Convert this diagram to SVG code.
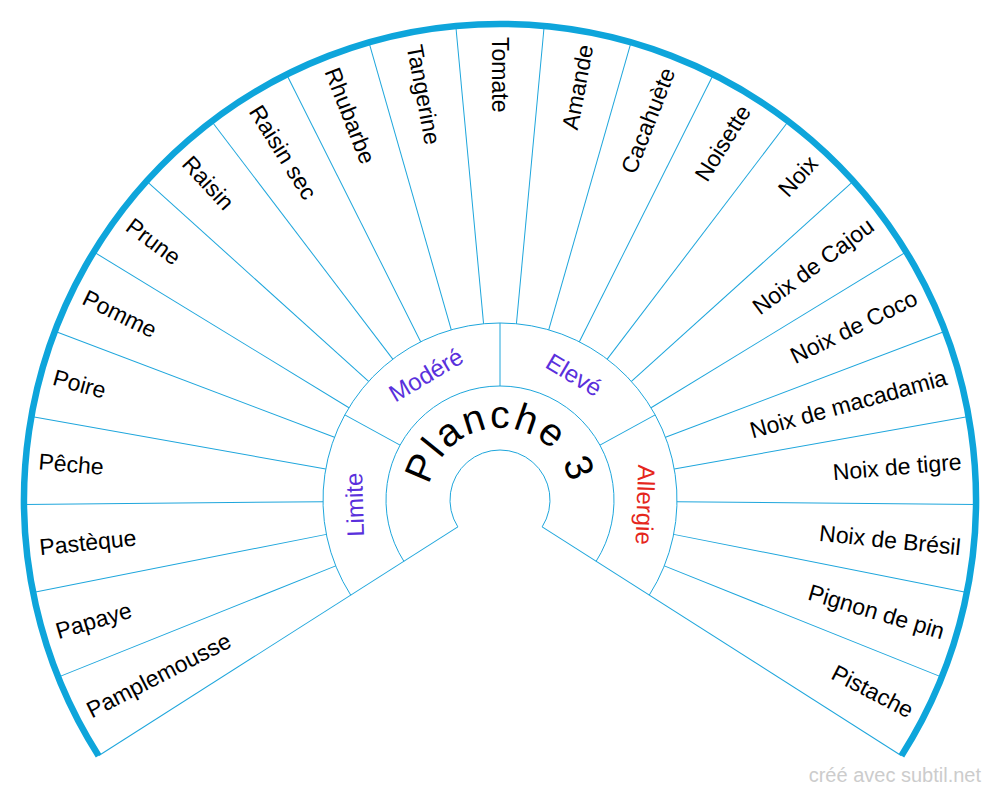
<svg xmlns="http://www.w3.org/2000/svg" xmlns:xlink="http://www.w3.org/1999/xlink" width="1000" height="796" viewBox="0 0 1000 796">
<style>
.bg{fill:#ffffff}
.thin{stroke:#1ea6dc;stroke-width:1;fill:none}
.thick{stroke:#0ea5db;stroke-width:6.5;fill:none}
.it{font-family:"Liberation Sans",Arial,sans-serif;font-size:23px;fill:#000;dominant-baseline:central}
.l{text-anchor:start}
.r{text-anchor:end}
.cat{font-family:"Liberation Sans",Arial,sans-serif;font-size:24px;fill:#5a30dc;text-anchor:middle;dominant-baseline:central}
.red{fill:#e5261c}
.title{font-family:"Liberation Sans",Arial,sans-serif;font-size:39px;fill:#000;letter-spacing:2.5px}
.foot{font-family:"Liberation Sans",Arial,sans-serif;font-size:20px;fill:#cccccc;text-anchor:end}
</style>
<defs>
<path id="titlePath" d="M 428 500 A 72 72 0 0 1 572 500"/>
</defs>
<rect class="bg" x="0" y="0" width="1000" height="796"/>
<g id="connectors">
<path class="thin" d="M 457.830 526.865 A 50 50 0 1 1 542.170 526.865"/>
<path class="thin" d="M 403.853 561.252 A 114 114 0 1 1 596.147 561.252"/>
<path class="thin" d="M 350.720 595.102 A 177 177 0 1 1 649.280 595.102"/>
<line class="thin" x1="500" y1="450" x2="500" y2="24" transform="rotate(-122.5 500 500)"/>
<line class="thin" x1="500" y1="450" x2="500" y2="24" transform="rotate(122.5 500 500)"/>
<line class="thin" x1="500" y1="386" x2="500" y2="323" transform="rotate(-61.25 500 500)"/>
<line class="thin" x1="500" y1="386" x2="500" y2="323"/>
<line class="thin" x1="500" y1="386" x2="500" y2="323" transform="rotate(61.25 500 500)"/>
<line class="thin" x1="500" y1="323" x2="500" y2="24" transform="rotate(-111.848 500 500)"/>
<line class="thin" x1="500" y1="323" x2="500" y2="24" transform="rotate(-101.196 500 500)"/>
<line class="thin" x1="500" y1="323" x2="500" y2="24" transform="rotate(-90.543 500 500)"/>
<line class="thin" x1="500" y1="323" x2="500" y2="24" transform="rotate(-79.891 500 500)"/>
<line class="thin" x1="500" y1="323" x2="500" y2="24" transform="rotate(-69.239 500 500)"/>
<line class="thin" x1="500" y1="323" x2="500" y2="24" transform="rotate(-58.587 500 500)"/>
<line class="thin" x1="500" y1="323" x2="500" y2="24" transform="rotate(-47.935 500 500)"/>
<line class="thin" x1="500" y1="323" x2="500" y2="24" transform="rotate(-37.283 500 500)"/>
<line class="thin" x1="500" y1="323" x2="500" y2="24" transform="rotate(-26.630 500 500)"/>
<line class="thin" x1="500" y1="323" x2="500" y2="24" transform="rotate(-15.978 500 500)"/>
<line class="thin" x1="500" y1="323" x2="500" y2="24" transform="rotate(-5.326 500 500)"/>
<line class="thin" x1="500" y1="323" x2="500" y2="24" transform="rotate(5.326 500 500)"/>
<line class="thin" x1="500" y1="323" x2="500" y2="24" transform="rotate(15.978 500 500)"/>
<line class="thin" x1="500" y1="323" x2="500" y2="24" transform="rotate(26.630 500 500)"/>
<line class="thin" x1="500" y1="323" x2="500" y2="24" transform="rotate(37.283 500 500)"/>
<line class="thin" x1="500" y1="323" x2="500" y2="24" transform="rotate(47.935 500 500)"/>
<line class="thin" x1="500" y1="323" x2="500" y2="24" transform="rotate(58.587 500 500)"/>
<line class="thin" x1="500" y1="323" x2="500" y2="24" transform="rotate(69.239 500 500)"/>
<line class="thin" x1="500" y1="323" x2="500" y2="24" transform="rotate(79.891 500 500)"/>
<line class="thin" x1="500" y1="323" x2="500" y2="24" transform="rotate(90.543 500 500)"/>
<line class="thin" x1="500" y1="323" x2="500" y2="24" transform="rotate(101.196 500 500)"/>
<line class="thin" x1="500" y1="323" x2="500" y2="24" transform="rotate(111.848 500 500)"/>
<path class="thick" d="M 98.546 755.755 A 476 476 0 1 1 901.454 755.755"/>
</g>
<g id="center">
<text class="title"><textPath xlink:href="#titlePath" href="#titlePath" startOffset="50%" text-anchor="middle">Planche 3</textPath></text>
</g>
<g id="cat-limite"><text class="cat" x="500" y="354.5" transform="rotate(-91.875 500 500)">Limite</text></g>
<g id="cat-modere"><text class="cat" x="500" y="354.5" transform="rotate(-30.625 500 500)">Modéré</text></g>
<g id="cat-eleve"><text class="cat" x="500" y="354.5" transform="rotate(30.625 500 500)">Elevé</text></g>
<g id="cat-allergie"><text class="cat red" x="500" y="354.5" transform="rotate(91.875 500 500)">Allergie</text></g>
<g id="item-pamplemousse"><text class="it l" x="37" y="500" transform="rotate(-27.174 500 500)">Pamplemousse</text></g>
<g id="item-papaye"><text class="it l" x="37" y="500" transform="rotate(-16.522 500 500)">Papaye</text></g>
<g id="item-pasteque"><text class="it l" x="37" y="500" transform="rotate(-5.870 500 500)">Pastèque</text></g>
<g id="item-peche"><text class="it l" x="37" y="500" transform="rotate(4.783 500 500)">Pêche</text></g>
<g id="item-poire"><text class="it l" x="37" y="500" transform="rotate(15.435 500 500)">Poire</text></g>
<g id="item-pomme"><text class="it l" x="37" y="500" transform="rotate(26.087 500 500)">Pomme</text></g>
<g id="item-prune"><text class="it l" x="37" y="500" transform="rotate(36.739 500 500)">Prune</text></g>
<g id="item-raisin"><text class="it l" x="37" y="500" transform="rotate(47.391 500 500)">Raisin</text></g>
<g id="item-raisin-sec"><text class="it l" x="37" y="500" transform="rotate(58.043 500 500)">Raisin sec</text></g>
<g id="item-rhubarbe"><text class="it l" x="37" y="500" transform="rotate(68.696 500 500)">Rhubarbe</text></g>
<g id="item-tangerine"><text class="it l" x="37" y="500" transform="rotate(79.348 500 500)">Tangerine</text></g>
<g id="item-tomate"><text class="it l" x="37" y="500" transform="rotate(90 500 500)">Tomate</text></g>
<g id="item-amande"><text class="it r" x="963" y="500" transform="rotate(-79.348 500 500)">Amande</text></g>
<g id="item-cacahuete"><text class="it r" x="963" y="500" transform="rotate(-68.696 500 500)">Cacahuète</text></g>
<g id="item-noisette"><text class="it r" x="963" y="500" transform="rotate(-58.043 500 500)">Noisette</text></g>
<g id="item-noix"><text class="it r" x="963" y="500" transform="rotate(-47.391 500 500)">Noix</text></g>
<g id="item-noix-cajou"><text class="it r" x="963" y="500" transform="rotate(-36.739 500 500)">Noix de Cajou</text></g>
<g id="item-noix-coco"><text class="it r" x="963" y="500" transform="rotate(-26.087 500 500)">Noix de Coco</text></g>
<g id="item-noix-macadamia"><text class="it r" x="963" y="500" transform="rotate(-15.435 500 500)">Noix de macadamia</text></g>
<g id="item-noix-tigre"><text class="it r" x="963" y="500" transform="rotate(-4.783 500 500)">Noix de tigre</text></g>
<g id="item-noix-bresil"><text class="it r" x="963" y="500" transform="rotate(5.870 500 500)">Noix de Brésil</text></g>
<g id="item-pignon"><text class="it r" x="963" y="500" transform="rotate(16.522 500 500)">Pignon de pin</text></g>
<g id="item-pistache"><text class="it r" x="963" y="500" transform="rotate(27.174 500 500)">Pistache</text></g>
<g id="footer"><text class="foot" x="981" y="782">créé avec subtil.net</text></g>
</svg>
